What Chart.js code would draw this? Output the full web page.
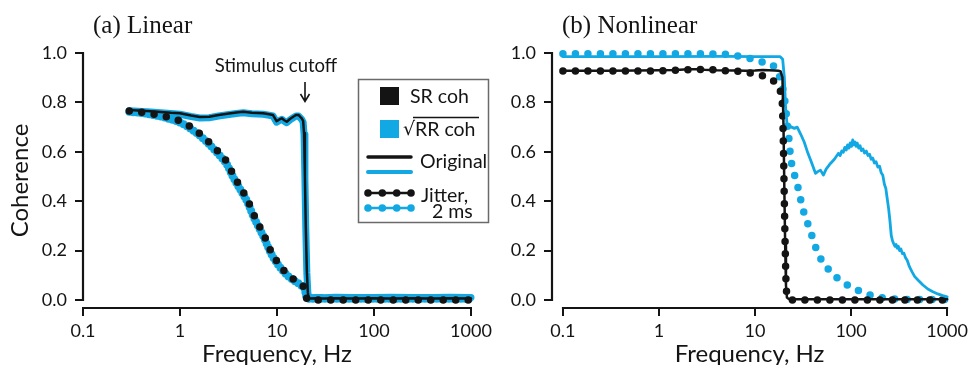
<!DOCTYPE html>
<html>
<head>
<meta charset="utf-8">
<script src="https://cdn.jsdelivr.net/npm/chart.js@4.4.1/dist/chart.umd.min.js"></script>
<style>
  html, body { margin: 0; padding: 0; background: #fff; }
  body { width: 972px; height: 365px; position: relative; overflow: hidden; }
  canvas { position: absolute; top: 0; }
  #linear { left: 0; }
  #nonlinear { left: 480px; }
</style>
</head>
<body>
<canvas id="linear" width="500" height="365"></canvas>
<canvas id="nonlinear" width="492" height="365"></canvas>
<script>
const ink = '#141414';
const cyan = '#12a8e3';
const freqTicks = [0.1, 1, 10, 100, 1000];
const cohTicks = [0, 0.2, 0.4, 0.6, 0.8, 1.0];

// (a) linear: original stimulus
const linFreq = [0.3, 0.5, 0.8, 1, 1.3, 1.6, 2, 2.5, 3.2, 4, 4.5, 5.5, 7.2, 8.3, 9.1, 9.9, 10.5, 11.2, 11.9, 12.6, 13.6, 14.7, 15.7, 16.7, 17.3, 17.9, 18.6, 19.0, 19.4, 19.8, 20.3, 20.8, 21.2, 22, 25, 30, 40, 60, 100, 150, 250, 400, 600, 1000];
const linOrigSR = [0.769, 0.764, 0.758, 0.756, 0.747, 0.741, 0.742, 0.749, 0.755, 0.760, 0.762, 0.758, 0.756, 0.752, 0.749, 0.724, 0.730, 0.736, 0.728, 0.722, 0.733, 0.742, 0.749, 0.749, 0.742, 0.736, 0.725, 0.676, 0.50, 0.30, 0.12, 0.03, 0.008, 0.006, 0.007, 0.006, 0.007, 0.006, 0.007, 0.006, 0.007, 0.006, 0.007, 0.006];
const linOrigRR = [0.766, 0.761, 0.755, 0.752, 0.743, 0.737, 0.738, 0.745, 0.751, 0.756, 0.758, 0.754, 0.752, 0.748, 0.745, 0.720, 0.726, 0.732, 0.724, 0.718, 0.729, 0.738, 0.745, 0.745, 0.738, 0.732, 0.720, 0.670, 0.49, 0.29, 0.11, 0.03, 0.012, 0.010, 0.011, 0.010, 0.012, 0.011, 0.010, 0.012, 0.011, 0.010, 0.012, 0.011];

// (a) linear: 2 ms jitter
const linJitFreq = [0.3, 0.4, 0.55, 0.75, 1.04, 1.35, 1.81, 2.39, 3.03, 3.55, 4.26, 4.98, 5.68, 6.5, 7.5, 8.6, 10.3, 13.1, 17.9, 19.3, 20.0, 20.6, 21.2, 23, 30, 50, 100, 200, 500, 1000];
const linJitSR = [0.765, 0.760, 0.752, 0.740, 0.722, 0.695, 0.655, 0.607, 0.560, 0.506, 0.452, 0.405, 0.351, 0.304, 0.254, 0.200, 0.149, 0.101, 0.061, 0.045, 0.013, 0.003, 0.0, 0.0, 0.0, 0.0, 0.0, 0.0, 0.0, 0.0];
const linJitRR = [0.762, 0.757, 0.748, 0.735, 0.716, 0.688, 0.647, 0.598, 0.550, 0.496, 0.442, 0.395, 0.341, 0.294, 0.245, 0.192, 0.142, 0.096, 0.058, 0.045, 0.015, 0.008, 0.006, 0.005, 0.005, 0.005, 0.005, 0.005, 0.005, 0.005];

// (b) nonlinear: original stimulus
const nonOrigFreqSR = [0.1, 0.3, 0.6, 1, 1.5, 2, 2.5, 3, 4, 6, 8, 10, 12, 14, 16, 17.5, 18.5, 19.3, 19.8, 20.2, 20.6, 21.0, 21.5, 22.5, 25, 40, 100, 300, 1000];
const nonOrigSR = [0.928, 0.928, 0.929, 0.930, 0.931, 0.934, 0.934, 0.932, 0.930, 0.929, 0.928, 0.929, 0.931, 0.930, 0.929, 0.928, 0.925, 0.900, 0.700, 0.450, 0.220, 0.060, 0.010, 0.004, 0.003, 0.003, 0.003, 0.003, 0.003];
const nonOrigFreqRR = [0.1, 1, 5, 10, 15, 18.3, 19.4, 20.2, 20.8, 21.5, 22.5, 24, 25.7, 27.5, 30, 32.5, 35.5, 38.5, 42.6, 45, 48, 51.5, 55, 61, 67, 74, 77, 80, 83, 86, 89, 92, 95, 98, 101, 104, 107, 110, 113, 116, 120, 124, 128, 133, 138, 144, 150, 156, 162, 168, 175, 182, 190, 198, 206, 214, 222, 230, 238, 246, 254, 262, 270, 278, 286, 294, 302, 310, 320, 330, 342, 355, 368, 385, 405, 430, 460, 500, 560, 630, 710, 800, 900, 1000];
const nonOrigRR = [0.985, 0.985, 0.986, 0.985, 0.985, 0.985, 0.975, 0.900, 0.780, 0.715, 0.705, 0.700, 0.695, 0.700, 0.670, 0.640, 0.595, 0.560, 0.513, 0.520, 0.526, 0.506, 0.530, 0.553, 0.570, 0.594, 0.585, 0.604, 0.598, 0.618, 0.607, 0.628, 0.615, 0.636, 0.622, 0.648, 0.628, 0.640, 0.622, 0.635, 0.615, 0.625, 0.605, 0.612, 0.595, 0.603, 0.585, 0.590, 0.570, 0.575, 0.555, 0.560, 0.538, 0.542, 0.515, 0.505, 0.470, 0.452, 0.410, 0.370, 0.320, 0.262, 0.240, 0.228, 0.218, 0.225, 0.210, 0.218, 0.200, 0.207, 0.188, 0.190, 0.172, 0.160, 0.135, 0.115, 0.095, 0.080, 0.061, 0.045, 0.034, 0.025, 0.018, 0.013];

// (b) nonlinear: 2 ms jitter
const nonJitFreqSR = [0.1, 0.5, 1, 2, 3, 5, 7, 8.5, 10, 11.6, 13.5, 15.2, 17, 18.5, 19.3, 19.8, 20.2, 20.6, 21.0, 21.5, 22.5, 25, 50, 100, 300, 1000];
const nonJitSR = [0.927, 0.927, 0.928, 0.932, 0.933, 0.928, 0.925, 0.920, 0.915, 0.910, 0.900, 0.890, 0.870, 0.840, 0.780, 0.600, 0.400, 0.220, 0.080, 0.020, 0.003, 0.0, 0.0, 0.0, 0.0, 0.0];
const nonJitFreqRR = [0.1, 0.5, 1, 2, 4, 5.5, 6.6, 8.8, 11.6, 15.8, 18.5, 20.2, 21.2, 22.0, 22.8, 23.3, 24.7, 26.7, 28.9, 30.7, 33.8, 37.5, 41.2, 46.4, 54.3, 66.3, 84, 107, 135, 171, 220, 300, 500, 1000];
const nonJitRR = [0.997, 0.997, 0.997, 0.997, 0.996, 0.993, 0.988, 0.978, 0.965, 0.945, 0.890, 0.820, 0.750, 0.690, 0.634, 0.587, 0.533, 0.486, 0.434, 0.385, 0.331, 0.283, 0.232, 0.180, 0.139, 0.101, 0.070, 0.047, 0.030, 0.016, 0.008, 0.004, 0.002, 0.002];

const pts = (xs, ys) => xs.map((x, i) => ({ x, y: ys[i] }));

function solid(data, color, width, order) {
  return { data, borderColor: color, borderWidth: width, pointRadius: 0, tension: 0,
           borderCapStyle: 'round', borderJoinStyle: 'round', clip: false, order };
}
function dotted(data, color, width, gap, order) {
  return { data, borderColor: color, borderWidth: width, pointRadius: 0,
           cubicInterpolationMode: 'monotone', borderDash: [0, gap],
           borderCapStyle: 'round', clip: false, order };
}

function drawText(ctx, text, x, y, font, align) {
  ctx.font = font;
  ctx.textAlign = align || 'left';
  ctx.textBaseline = 'middle';
  ctx.fillText(text, x, y);
}

const panelDecor = {
  id: 'panelDecor',
  beforeDatasetsDraw(chart) {
    const { ctx, chartArea, scales: { x, y } } = chart;
    ctx.save();
    ctx.strokeStyle = ink;
    ctx.lineWidth = 2.2;
    ctx.beginPath();
    ctx.moveTo(chartArea.left, y.getPixelForValue(1) - 1);
    ctx.lineTo(chartArea.left, y.getPixelForValue(0) + 1);
    ctx.moveTo(x.getPixelForValue(0.1) - 1, chartArea.bottom);
    ctx.lineTo(x.getPixelForValue(1000) + 1, chartArea.bottom);
    ctx.stroke();
    ctx.restore();
  },
  afterDraw(chart, args, opts) {
    const { ctx } = chart;
    ctx.save();
    ctx.fillStyle = ink;
    drawText(ctx, opts.title, opts.titleX, 26, '25px "Liberation Serif"');
    if (opts.legend) {
      // stimulus cutoff marker
      drawText(ctx, 'Stimulus cutoff', 276, 66, '18.5px Lato', 'center');
      ctx.strokeStyle = ink;
      ctx.lineWidth = 1.6;
      ctx.beginPath();
      ctx.moveTo(305, 82); ctx.lineTo(305, 101);
      ctx.moveTo(300.5, 94); ctx.lineTo(305, 101.5); ctx.lineTo(309.5, 94);
      ctx.stroke();

      // key box
      ctx.strokeStyle = '#6a6a6a';
      ctx.lineWidth = 1.5;
      ctx.strokeRect(358.5, 79.5, 130, 143);
      ctx.fillStyle = ink;
      ctx.fillRect(380, 87, 19, 18);
      ctx.fillStyle = cyan;
      ctx.fillRect(380, 120, 19, 18);
      ctx.fillStyle = ink;
      drawText(ctx, 'SR coh', 410, 97, '19.5px Lato');
      drawText(ctx, '\u221A', 403, 130, '19px "DejaVu Sans"');
      drawText(ctx, 'RR coh', 415, 130, '19.5px Lato');
      ctx.strokeStyle = ink;
      ctx.lineWidth = 1.3;
      ctx.beginPath();
      ctx.moveTo(413, 117.5); ctx.lineTo(479, 117.5);
      ctx.stroke();

      ctx.lineCap = 'round';
      ctx.lineWidth = 3.5;
      ctx.strokeStyle = ink;
      ctx.beginPath(); ctx.moveTo(368, 157); ctx.lineTo(411, 157); ctx.stroke();
      ctx.lineWidth = 4;
      ctx.strokeStyle = cyan;
      ctx.beginPath(); ctx.moveTo(368, 172); ctx.lineTo(411, 172); ctx.stroke();
      drawText(ctx, 'Original', 420, 162, '19.5px Lato');

      [[ink, 193], [cyan, 208]].forEach(([c, yy]) => {
        ctx.strokeStyle = c;
        ctx.fillStyle = c;
        ctx.lineWidth = 2.5;
        ctx.beginPath(); ctx.moveTo(368, yy); ctx.lineTo(411, yy); ctx.stroke();
        [368, 382.3, 396.7, 411].forEach(cx => {
          ctx.beginPath(); ctx.arc(cx, yy, 3.8, 0, Math.PI * 2); ctx.fill();
        });
      });
      ctx.fillStyle = ink;
      drawText(ctx, 'Jitter,', 421, 196, '19.5px Lato');
      drawText(ctx, '2 ms', 432, 212, '19.5px Lato');
    }
    ctx.restore();
  }
};

function makeScales(xMin, yWidth, yTitle) {
  const tickFont = { family: 'Lato', size: 18 };
  const axisGrid = { drawOnChartArea: false, drawTicks: true, tickLength: 8, color: ink, lineWidth: 2 };
  return {
    x: {
      type: 'logarithmic', min: xMin, max: 1000,
      afterBuildTicks: s => { s.ticks = freqTicks.map(v => ({ value: v })); },
      afterFit: s => { s.height = 57; },
      ticks: { autoSkip: false, maxRotation: 0, padding: 4, color: ink, font: tickFont,
               callback: v => (v < 1 ? v.toFixed(1) : String(v)) },
      grid: axisGrid,
      border: { display: false },
      title: { display: true, text: 'Frequency, Hz', color: ink,
               font: { family: 'Lato', size: 24 }, padding: { top: 0, bottom: -4 } }
    },
    y: {
      min: -0.032, max: 1,
      afterBuildTicks: s => { s.ticks = cohTicks.map(v => ({ value: v })); },
      afterFit: s => { s.width = yWidth; },
      ticks: { padding: 8, color: ink, font: tickFont, callback: v => v.toFixed(1) },
      grid: axisGrid,
      border: { display: false },
      title: { display: yTitle, text: 'Coherence', color: ink,
               font: { family: 'Lato', size: 24 }, padding: { top: 6, bottom: 0 } }
    }
  };
}

function baseOptions(padRight, xMin, yWidth, yTitle, decor) {
  return {
    responsive: false,
    animation: false,
    events: [],
    layout: { padding: { left: 0, top: 53, right: padRight, bottom: 0 } },
    scales: makeScales(xMin, yWidth, yTitle),
    plugins: { legend: { display: false }, tooltip: { enabled: false }, panelDecor: decor }
  };
}

new Chart(document.getElementById('linear'), {
  type: 'line',
  data: {
    datasets: [
      solid(pts(linFreq, linOrigSR), ink, 2.5, 0),
      dotted(pts(linJitFreq, linJitSR), ink, 7.5, 12.5, 1),
      solid(pts(linFreq, linOrigRR), cyan, 7, 2),
      dotted(pts(linJitFreq, linJitRR), cyan, 8, 4, 3)
    ]
  },
  options: baseOptions(29, 0.1, 83, true, { title: '(a) Linear', titleX: 93, legend: true }),
  plugins: [panelDecor]
});

// y axis sits 11px left of the 0.1 Hz tick on this panel
const nonXMin = 0.1 * Math.pow(10, -11 / 96.75);
new Chart(document.getElementById('nonlinear'), {
  type: 'line',
  data: {
    datasets: [
      solid(pts(nonOrigFreqSR, nonOrigSR), ink, 2.5, 0),
      solid(pts(nonOrigFreqRR, nonOrigRR), cyan, 2.8, 1),
      dotted(pts(nonJitFreqSR, nonJitSR), ink, 7.5, 12.5, 2),
      dotted(pts(nonJitFreqRR, nonJitRR), cyan, 7.5, 12.5, 3)
    ]
  },
  options: baseOptions(22, nonXMin, 72, false, { title: '(b) Nonlinear', titleX: 82, legend: false }),
  plugins: [panelDecor]
});
</script>
</body>
</html>
